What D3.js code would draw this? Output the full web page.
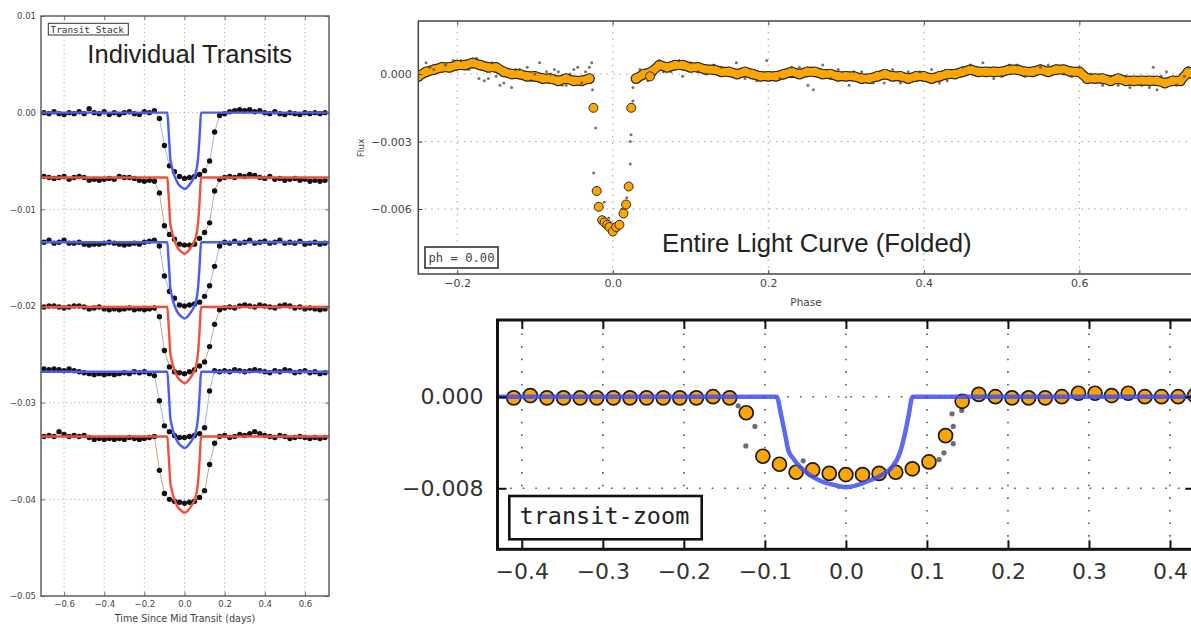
<!DOCTYPE html>
<html><head><meta charset="utf-8">
<script src="https://cdn.jsdelivr.net/npm/d3@7"></script>
<style>body{margin:0;background:#fff}svg{display:block}</style>
</head><body>
<svg id="c" width="1191" height="624"></svg>
<script>
// ---------------- DATA ----------------
// Individual transits (left panel)
const TIMES = [-0.700,-0.675,-0.650,-0.625,-0.600,-0.575,-0.550,-0.525,-0.500,-0.475,-0.450,-0.425,-0.400,-0.375,-0.350,-0.325,-0.300,-0.275,-0.250,-0.225,-0.200,-0.175,-0.150,-0.125,-0.100,-0.075,-0.050,-0.025,0.000,0.025,0.050,0.075,0.100,0.125,0.150,0.175,0.200,0.225,0.250,0.275,0.300,0.325,0.350,0.375,0.400,0.425,0.450,0.475,0.500,0.525,0.550,0.575,0.600,0.625,0.650,0.675,0.700];
const STACK_OFFSETS = [0, -0.0067, -0.0134, -0.0201, -0.0268, -0.0335];
const STACK_COLORS = ['blue','red','blue','red','blue','red'];
const TR1 = [0.0000,-0.0001,0.0001,-0.0001,-0.0002,0.0000,-0.0001,0.0001,-0.0001,0.0004,0.0000,-0.0001,0.0001,-0.0002,0.0000,-0.0002,0.0000,0.0001,-0.0001,-0.0002,0.0001,0.0000,0.0002,
 -0.0006,-0.0034,-0.0055,-0.0061,-0.0066,-0.0068,-0.0067,-0.0066,-0.0064,-0.0060,-0.0050,-0.0020,-0.0003,
 -0.0001,0.0001,0.0002,0.0003,0.0002,0.0003,0.0001,0.0002,0.0000,-0.0001,0.0001,-0.0001,-0.0002,0.0000,-0.0001,-0.0002,0.0000,-0.0001,0.0000,-0.0001,0.0000];
const TR2 = [0.0001,0.0000,-0.0001,0.0000,0.0001,-0.0002,0.0000,0.0001,0.0000,-0.0003,-0.0002,-0.0003,-0.0002,-0.0001,-0.0002,0.0001,0.0000,0.0000,-0.0001,-0.0003,-0.0004,-0.0003,-0.0004,
 -0.0016,-0.0050,-0.0059,-0.0064,-0.0069,-0.0070,-0.0070,-0.0069,-0.0063,-0.0057,-0.0047,-0.0014,-0.0002,
 0.0000,0.0001,0.0000,0.0002,0.0001,0.0003,0.0002,0.0000,-0.0001,0.0001,-0.0002,-0.0001,-0.0003,-0.0002,-0.0001,-0.0003,-0.0002,-0.0004,-0.0003,-0.0004,-0.0003];
const TR3 = [0.0000,0.0002,-0.0001,0.0000,0.0002,-0.0001,-0.0001,0.0000,-0.0002,-0.0003,-0.0002,-0.0002,-0.0001,0.0000,-0.0001,-0.0002,-0.0003,-0.0002,-0.0001,-0.0002,0.0000,0.0001,0.0002,
 -0.0004,-0.0035,-0.0051,-0.0058,-0.0065,-0.0066,-0.0065,-0.0064,-0.0062,-0.0056,-0.0045,-0.0025,-0.0004,
 0.0000,-0.0001,0.0001,-0.0001,0.0000,0.0002,-0.0001,0.0000,0.0001,-0.0001,0.0000,0.0002,-0.0001,0.0000,-0.0001,0.0001,-0.0002,-0.0001,0.0000,-0.0002,-0.0001];
const TR4 = [0.0000,0.0001,0.0001,0.0000,-0.0001,0.0000,0.0001,0.0001,0.0000,-0.0002,-0.0001,0.0000,-0.0002,-0.0003,-0.0002,-0.0003,-0.0002,-0.0001,-0.0003,-0.0002,-0.0003,-0.0002,-0.0001,
 -0.0010,-0.0045,-0.0062,-0.0067,-0.0068,-0.0069,-0.0067,-0.0065,-0.0061,-0.0057,-0.0041,-0.0018,-0.0003,
 -0.0001,0.0000,-0.0001,0.0001,0.0002,0.0001,0.0000,0.0002,0.0001,0.0000,-0.0001,0.0001,0.0002,0.0001,-0.0001,0.0000,-0.0002,-0.0001,-0.0002,-0.0003,-0.0002];
const TR5 = [0.0003,0.0002,0.0003,0.0002,0.0001,0.0003,0.0001,0.0000,-0.0001,-0.0002,-0.0003,-0.0002,-0.0003,-0.0002,-0.0003,-0.0002,-0.0001,-0.0002,0.0000,-0.0001,0.0000,-0.0002,-0.0004,
 -0.0030,-0.0056,-0.0062,-0.0066,-0.0068,-0.0068,-0.0067,-0.0066,-0.0064,-0.0058,-0.0020,0.0001,0.0000,
 0.0001,0.0000,0.0002,0.0001,0.0000,0.0001,0.0002,0.0001,0.0000,-0.0001,0.0001,0.0000,0.0002,0.0001,-0.0001,0.0000,0.0001,-0.0001,0.0000,-0.0002,-0.0001];
const TR6 = [0.0000,0.0001,0.0000,0.0005,0.0002,0.0000,0.0001,0.0000,0.0001,-0.0001,-0.0003,-0.0002,-0.0003,-0.0002,-0.0003,-0.0002,-0.0003,-0.0001,-0.0002,-0.0003,-0.0002,-0.0001,0.0000,
 -0.0035,-0.0059,-0.0065,-0.0067,-0.0068,-0.0069,-0.0068,-0.0067,-0.0063,-0.0056,-0.0029,-0.0007,0.0000,
 0.0001,-0.0001,0.0000,0.0002,0.0001,0.0003,0.0005,0.0003,0.0001,0.0000,-0.0001,0.0001,0.0000,-0.0002,-0.0001,0.0000,-0.0001,-0.0002,-0.0001,-0.0002,-0.0001];
const TRANSITS = [TR1, TR2, TR3, TR4, TR5, TR6];

// transit model (days, relative flux)
const MODEL_T = [-0.75,-0.0855,-0.080,-0.075,-0.071,-0.065,-0.057,-0.045,-0.030,-0.015,0.000,0.015,0.030,0.045,0.055,0.0667,0.072,0.077,0.0823,0.75];
const MODEL_F = [0,0,-0.0016,-0.0033,-0.0047,-0.0054,-0.0061,-0.0068,-0.0074,-0.0077,-0.0079,-0.0077,-0.0073,-0.0068,-0.0063,-0.0049,-0.0035,-0.0018,0,0];

// folded light curve (top right)
const FOLD_PH = [-0.25,-0.24,-0.23,-0.22,-0.21,-0.20,-0.19,-0.18,-0.17,-0.16,-0.15,-0.14,-0.13,-0.12,-0.11,-0.10,-0.09,-0.08,-0.07,-0.06,-0.05,-0.04,-0.03,
 0.03,0.04,0.05,0.06,0.07,0.08,0.09,0.10,0.11,0.12,0.13,0.14,0.15,0.16,0.17,0.18,0.19,0.20,0.21,0.22,0.23,0.24,0.25,0.26,0.27,0.28,0.29,0.30,0.31,0.32,
 0.33,0.34,0.35,0.36,0.37,0.38,0.39,0.40,0.41,0.42,0.43,0.44,0.45,0.46,0.47,0.48,0.49,0.50,0.51,0.52,0.53,0.54,0.55,0.56,0.57,0.58,0.59,0.60,0.61,0.62,
 0.63,0.64,0.65,0.66,0.67,0.68,0.69,0.70,0.71,0.72,0.73,0.74,0.75];
const FOLD_F = [-0.0001,0.0001,0.0002,0.0003,0.0003,0.0004,0.0004,0.0005,0.0004,0.0003,0.0003,0.0001,0.0000,0.0000,-0.0001,-0.0001,-0.0002,-0.0002,-0.0003,-0.0002,-0.0003,-0.0003,-0.0002,
 -0.0002,0.0000,0.0001,0.0004,0.0003,0.0004,0.0004,0.0003,0.0003,0.0002,
 0.0002,0.0001,0.0001,0.0000,0.0001,0.0000,-0.0001,-0.0001,-0.0001,0.0000,
 0.0001,0.0000,0.0001,0.0001,0.0000,0.0000,-0.0001,-0.0001,-0.0001,-0.0002,
 -0.0002,-0.0001,0.0000,-0.0001,-0.0001,-0.0002,-0.0001,-0.0001,-0.0002,-0.0001,
 0.0000,0.0000,0.0001,0.0002,0.0001,0.0001,0.0001,0.0001,0.0002,0.0002,
 0.0001,0.0001,0.0002,0.0001,0.0002,0.0002,0.0001,0.0001,-0.0002,-0.0002,
 -0.0002,-0.0003,-0.0002,-0.0003,-0.0003,-0.0003,-0.0003,-0.0003,-0.0004,-0.0003,
 -0.0003,0.0001,-0.0001];
const DIP_PH = [-0.0248,-0.0206,-0.0180,-0.0136,-0.0105,-0.0070,-0.0042,0.0000,0.0045,0.0086,0.0138,0.0172,0.0205,0.0238,0.0480];
const DIP_F  = [-0.0015,-0.0052,-0.0059,-0.0065,-0.0066,-0.0067,-0.0068,-0.0070,-0.0068,-0.0067,-0.0062,-0.0058,-0.0050,-0.0015,-0.0001];
const RAW_TOP = [[-0.240,0.0005],[-0.230,0.0002],[-0.215,0.0004],[-0.195,0.0006],[-0.185,0.0002],[-0.175,0.0007],[-0.172,-0.0002],[-0.165,-0.0003],
 [-0.160,-0.0002],[-0.150,-0.0001],[-0.145,-0.0005],[-0.140,-0.0004],[-0.130,-0.0006],[-0.120,0.0002],[-0.110,0.0003],[-0.100,0.0000],[-0.094,0.0005],
 [-0.085,0.0001],[-0.075,0.0002],[-0.070,0.0001],[-0.060,-0.0005],[-0.050,0.0002],[-0.045,0.0003],[-0.040,-0.0004],[-0.035,0.0001],[-0.030,0.0003],
 [-0.027,0.0005],[-0.026,-0.0007],[-0.022,-0.0024],[-0.0245,-0.0044],[-0.011,-0.0057],[-0.005,-0.0064],[0.012,-0.0060],[0.018,-0.0055],
 [0.0225,-0.0040],[0.0225,-0.0030],[0.0235,-0.0027],[0.026,-0.0012],[0.026,-0.0006],[0.035,0.0002],[0.045,-0.0003],[0.060,0.0006],[0.075,0.0001],
 [0.090,-0.0001],[0.110,0.0001],[0.130,0.0004],[0.159,0.0005],[0.170,-0.0002],[0.198,0.0006],[0.215,-0.0002],[0.230,0.0003],[0.251,-0.0005],
 [0.258,-0.0007],[0.270,0.0004],[0.290,0.0002],[0.304,-0.0005],[0.320,0.0001],[0.349,-0.0004],[0.360,0.0002],[0.380,0.0001],[0.410,0.0002],
 [0.430,-0.0003],[0.450,0.0003],[0.476,0.0005],[0.490,-0.0002],[0.510,0.0004],[0.530,-0.0001],[0.550,0.0003],[0.580,0.0000],[0.600,0.0003],
 [0.615,0.0000],[0.630,-0.0005],[0.650,-0.0005],[0.665,-0.0006],[0.680,-0.0005],[0.695,0.0003],[0.700,-0.0007],[0.712,0.0001],[0.725,-0.0005],[0.740,0.0003],
 [-0.235,0.0003],[-0.205,0.0006],[-0.155,0.0005],[-0.125,0.0002],[-0.105,-0.0003],[-0.080,0.0000],[-0.065,-0.0005],[-0.055,0.0000],
 [0.065,0.0001],[0.085,0.0006],[0.100,0.0005],[0.120,0.0000],[0.140,0.0003],[0.185,-0.0003],[0.240,0.0003],[0.280,-0.0002],[0.310,0.0001],
 [0.335,-0.0004],[0.370,-0.0004],[0.395,0.0001],[0.420,-0.0004],[0.460,0.0004],[0.500,-0.0001],[0.520,0.0004],[0.560,0.0004],[0.590,-0.0001],
 [0.640,-0.0001],[0.660,-0.0001],[0.690,-0.0006],[0.705,-0.0001],[0.735,-0.0001]];

// transit zoom (bottom)
const ZOOM_PH = [-0.4100,-0.3895,-0.3690,-0.3485,-0.3280,-0.3075,-0.2870,-0.2665,-0.2460,-0.2255,-0.2050,-0.1845,-0.1640,-0.1435,-0.1230,-0.1025,-0.0820,-0.0615,-0.0410,-0.0205,
 0.0000,0.0205,0.0410,0.0615,0.0820,0.1025,0.1230,0.1435,0.1640,0.1845,0.2050,0.2255,0.2460,0.2665,0.2870,0.3075,0.3280,0.3485,0.3690,0.3895,0.4100,0.4305];
const ZOOM_F = [-0.0001,0.0001,-0.0001,-0.0001,-0.0001,-0.0001,-0.0001,-0.0001,-0.0001,-0.0001,-0.0001,-0.0001,0.0000,-0.0001,-0.0014,-0.0052,-0.0059,-0.0066,-0.0064,-0.0067,
 -0.0068,-0.0068,-0.0067,-0.0066,-0.0063,-0.0057,-0.0034,-0.0004,0.0002,0.0000,-0.0001,-0.0001,-0.0001,0.0000,0.0003,0.0003,0.0001,0.0003,0.0000,0.0000,0.0000,0.0001];
const ZOOM_RAW = [[-0.1330,-0.0008],[-0.1235,-0.0043],[-0.1123,-0.0026],[-0.0527,-0.0056],[0.1150,-0.0055],[0.1210,-0.0049],[0.1325,-0.0041],
 [0.1325,-0.0026],[0.1310,-0.0015],[0.1430,-0.0012],[0.1490,-0.0006]];

const L_XTICKS = [-0.6,-0.4,-0.2,0.0,0.2,0.4,0.6];
const L_YTICKS = [0.01,0.00,-0.01,-0.02,-0.03,-0.04,-0.05];
const T_XTICKS = [-0.2,0.0,0.2,0.4,0.6];
const T_YTICKS = [0.000,-0.003,-0.006];
const B_XTICKS = [-0.4,-0.3,-0.2,-0.1,0.0,0.1,0.2,0.3,0.4];
const B_YTICKS = [0.000,-0.008];

// ---------------- DRAW ----------------
const svg = d3.select('#c');
const defs = svg.append('defs');
const COL = {blue:'#4a5cf2', red:'#f0503e', blueThin:'#9fb2f2', redThin:'#c9a487', orange:'#ffa500'};

function clip(id, x, y){
  const [x0,x1]=x.range(), [y1,y0]=y.range();
  defs.append('clipPath').attr('id',id).append('rect')
    .attr('x',x0).attr('y',y0).attr('width',x1-x0).attr('height',y1-y0);
}
function grid(g, x, y, xt, yt, st){
  const [ya,yb]=y.range(), [xa,xb]=x.range();
  g.append('g').selectAll('line').data(xt).join('line')
    .attr('x1',d=>x(d)).attr('x2',d=>x(d)).attr('y1',ya).attr('y2',yb)
    .attr('stroke',st.c).attr('stroke-width',st.w).attr('stroke-dasharray',st.d);
  g.append('g').selectAll('line').data(yt).join('line')
    .attr('y1',d=>y(d)).attr('y2',d=>y(d)).attr('x1',xa).attr('x2',xb)
    .attr('stroke',st.c).attr('stroke-width',st.w).attr('stroke-dasharray',st.d);
}
function axes(g, x, y, xt, yt, o){
  const [ya,yb]=y.range(), [xa,xb]=x.range();
  const style = (a) => {
    a.select('.domain').remove();
    a.selectAll('line').attr('stroke',o.kc).attr('stroke-width',o.kw);
    a.selectAll('text').attr('font-size',o.fs).attr('font-family','DejaVu Sans').attr('fill',o.tc);
  };
  g.append('g').attr('transform',`translate(0,${ya})`)
    .call(d3.axisBottom(x).tickValues(xt).tickFormat(d3.format(o.xf)).tickSize(-o.tk).tickPadding(o.xp)).call(style);
  g.append('g').attr('transform',`translate(0,${yb})`)
    .call(d3.axisTop(x).tickValues(xt).tickFormat('').tickSize(-o.tk)).call(style);
  g.append('g').attr('transform',`translate(${xa},0)`)
    .call(d3.axisLeft(y).tickValues(yt).tickFormat(d3.format(o.yf)).tickSize(-o.tk).tickPadding(o.yp)).call(style);
  g.append('g').attr('transform',`translate(${xb},0)`)
    .call(d3.axisRight(y).tickValues(yt).tickFormat('').tickSize(-o.tk)).call(style);
}
function frame(g, x, y, c, w){
  const [x0,x1]=x.range(), [y1,y0]=y.range();
  g.append('rect').attr('x',x0).attr('y',y0).attr('width',x1-x0).attr('height',y1-y0)
    .attr('fill','none').attr('stroke',c).attr('stroke-width',w);
}

// ===== LEFT PANEL =====
{
  const x = d3.scaleLinear().domain([-0.715,0.72]).range([41,329]);
  const y = d3.scaleLinear().domain([-0.05,0.01]).range([596,16]);
  clip('clipL', x, y);
  const g = svg.append('g');
  grid(g, x, y, L_XTICKS, L_YTICKS.slice(1,-1), {c:'#9a9a9a', w:0.8, d:'1.2,3'});
  const p = g.append('g').attr('clip-path','url(#clipL)');
  TRANSITS.forEach((tr, i) => {
    const off = STACK_OFFSETS[i], c = STACK_COLORS[i];
    const pts = TIMES.map((t,k)=>[t, off+tr[k]]);
    p.append('path').datum(pts)
      .attr('d', d3.line().x(d=>x(d[0])).y(d=>y(d[1])))
      .attr('fill','none').attr('stroke', c==='blue'?COL.blueThin:COL.redThin).attr('stroke-width',1);
    p.append('g').selectAll('circle').data(pts).join('circle')
      .attr('cx',d=>x(d[0])).attr('cy',d=>y(d[1])).attr('r',2.7).attr('fill','#111');
    const mod = MODEL_T.map((t,k)=>[t, off+MODEL_F[k]]);
    p.append('path').datum(mod)
      .attr('d', d3.line().x(d=>x(d[0])).y(d=>y(d[1])).curve(d3.curveMonotoneX))
      .attr('fill','none').attr('stroke', COL[c]).attr('stroke-width',2.4).attr('stroke-linejoin','round');
  });
  axes(g, x, y, L_XTICKS, L_YTICKS, {xf:'.1f', yf:'.2f', tk:4, xp:5, yp:5, fs:8.5, tc:'#444', kc:'#555', kw:0.8});
  frame(g, x, y, '#555', 1.4);
  g.append('rect').attr('x',48.3).attr('y',23.3).attr('width',80).attr('height',11.7)
    .attr('fill','#fff').attr('stroke','#333').attr('stroke-width',1);
  g.append('text').attr('x',50.5).attr('y',32.6).attr('font-family','DejaVu Sans Mono').attr('font-size',9.4)
    .attr('fill','#333').text('Transit Stack');
  g.append('text').attr('x',87.3).attr('y',62.5).attr('font-family','Liberation Sans, Arial, sans-serif')
    .attr('font-size',25.6).attr('fill','#222').text('Individual Transits');
  g.append('text').attr('x',(x.range()[0]+x.range()[1])/2).attr('y',621.5).attr('text-anchor','middle')
    .attr('font-family','DejaVu Sans').attr('font-size',9.6).attr('fill','#444').text('Time Since Mid Transit (days)');
}

// ===== TOP RIGHT PANEL =====
{
  const x = d3.scaleLinear().domain([-0.25,0.75]).range([418.3,1196]);
  const y = d3.scaleLinear().domain([-0.00889,0.00236]).range([274,21]);
  clip('clipT', x, y);
  const g = svg.append('g');
  grid(g, x, y, T_XTICKS, T_YTICKS, {c:'#8a8a8a', w:0.9, d:'1.3,5.2'});
  const p = g.append('g').attr('clip-path','url(#clipT)');
  const band = FOLD_PH.map((ph,k)=>[ph, FOLD_F[k]]);
  // split the folded band where the transit gap is
  const segs = [[]];
  band.forEach((d,k)=>{ if(k>0 && d[0]-band[k-1][0] > 0.02) segs.push([]); segs[segs.length-1].push(d); });
  const ln = d3.line().x(d=>x(d[0])).y(d=>y(d[1]));
  p.append('g').selectAll('circle').data(band).join('circle')
    .attr('cx',d=>x(d[0])).attr('cy',d=>y(d[1])).attr('r',5.4).attr('fill','#2a2a2a');
  p.append('g').selectAll('path').data(segs).join('path').attr('d',ln)
    .attr('fill','none').attr('stroke','#2a2a2a').attr('stroke-width',10).attr('stroke-linejoin','round').attr('stroke-linecap','round');
  p.append('g').selectAll('path').data(segs).join('path').attr('d',ln)
    .attr('fill','none').attr('stroke',COL.orange).attr('stroke-width',7.6).attr('stroke-linejoin','round').attr('stroke-linecap','round');
  p.append('g').selectAll('circle').data(band).join('circle')
    .attr('cx',d=>x(d[0])).attr('cy',d=>y(d[1])).attr('r',4.2).attr('fill',COL.orange);
  p.append('g').selectAll('circle').data(RAW_TOP).join('circle')
    .attr('cx',d=>x(d[0])).attr('cy',d=>y(d[1])).attr('r',1.5).attr('fill','#444').attr('opacity',0.75);
  const dip = DIP_PH.map((ph,k)=>[ph, DIP_F[k]]);
  p.append('g').selectAll('circle').data(dip).join('circle')
    .attr('cx',d=>x(d[0])).attr('cy',d=>y(d[1])).attr('r',4.5)
    .attr('fill',COL.orange).attr('stroke','#2a2a2a').attr('stroke-width',1);
  axes(g, x, y, T_XTICKS, T_YTICKS, {xf:'.1f', yf:'.3f', tk:4, xp:5, yp:6.5, fs:11, tc:'#444', kc:'#444', kw:1});
  frame(g, x, y, '#444', 1.5);
  g.append('rect').attr('x',425).attr('y',247).attr('width',73).attr('height',21)
    .attr('fill','#fff').attr('stroke','#333').attr('stroke-width',1.6);
  g.append('text').attr('x',428.5).attr('y',262).attr('font-family','DejaVu Sans Mono').attr('font-size',12.2)
    .attr('fill','#444').text('ph = 0.00');
  g.append('text').attr('x',662).attr('y',251.5).attr('font-family','Liberation Sans, Arial, sans-serif')
    .attr('font-size',25.8).attr('fill','#222').text('Entire Light Curve (Folded)');
  g.append('text').attr('x',806).attr('y',306).attr('text-anchor','middle')
    .attr('font-family','DejaVu Sans').attr('font-size',10.5).attr('fill','#444').text('Phase');
  g.append('text').attr('transform','translate(364,148) rotate(-90)').attr('text-anchor','middle')
    .attr('font-family','DejaVu Sans').attr('font-size',9).attr('fill','#444').text('Flux');
}

// ===== BOTTOM ZOOM PANEL =====
{
  const x = d3.scaleLinear().domain([-0.43,0.43]).range([497.5,1194.3]);
  const y = d3.scaleLinear().domain([-0.01333,0.0067]).range([549.3,320]);
  clip('clipB', x, y);
  const g = svg.append('g');
  grid(g, x, y, B_XTICKS, B_YTICKS, {c:'#555', w:1.6, d:'1.6,11'});
  const p = g.append('g').attr('clip-path','url(#clipB)');
  p.append('g').selectAll('circle').data(ZOOM_RAW).join('circle')
    .attr('cx',d=>x(d[0])).attr('cy',d=>y(d[1])).attr('r',2.6).attr('fill','#555').attr('opacity',0.85);
  const bins = ZOOM_PH.map((ph,k)=>[ph, ZOOM_F[k]]);
  p.append('g').selectAll('circle').data(bins).join('circle')
    .attr('cx',d=>x(d[0])).attr('cy',d=>y(d[1])).attr('r',7)
    .attr('fill',COL.orange).attr('stroke','#1a1a1a').attr('stroke-width',1.7);
  const mod = MODEL_T.map((t,k)=>[t, MODEL_F[k]]);
  p.append('path').datum(mod)
    .attr('d', d3.line().x(d=>x(d[0])).y(d=>y(d[1])).curve(d3.curveMonotoneX))
    .attr('fill','none').attr('stroke','#3f4ff0').attr('stroke-opacity',0.85).attr('stroke-width',4.5).attr('stroke-linejoin','round');
  axes(g, x, y, B_XTICKS, B_YTICKS, {xf:'.1f', yf:'.3f', tk:9, xp:14.5, yp:14, fs:22, tc:'#333', kc:'#111', kw:2});
  frame(g, x, y, '#111', 3);
  g.append('rect').attr('x',509.3).attr('y',496).attr('width',192.4).attr('height',43.3)
    .attr('fill','#fff').attr('stroke','#111').attr('stroke-width',2.6);
  g.append('text').attr('x',519.5).attr('y',524).attr('font-family','DejaVu Sans Mono').attr('font-size',23.5)
    .attr('fill','#222').text('transit-zoom');
}
</script>
</body></html>
